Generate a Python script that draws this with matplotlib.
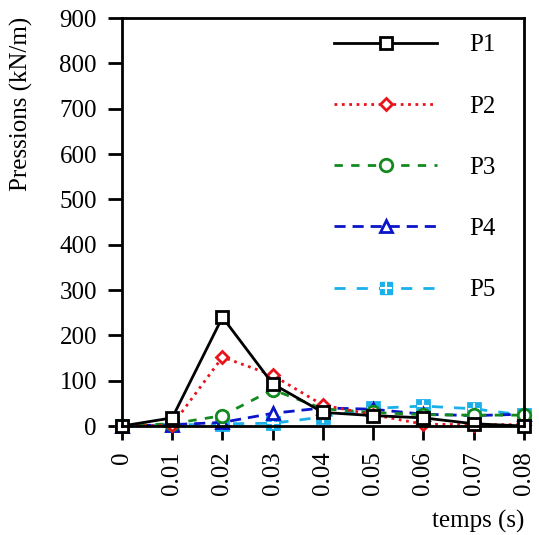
import matplotlib
matplotlib.use('Agg')
import matplotlib.pyplot as plt
from matplotlib.lines import Line2D
from matplotlib.legend_handler import HandlerTuple

plt.rcParams['font.family'] = ['Liberation Serif', 'DejaVu Serif']
plt.rcParams['font.size'] = 18

# temps (s)
t = [0, 0.01, 0.02, 0.03, 0.04, 0.05, 0.06, 0.07, 0.08]
tick_labels = ['0', '0.01', '0.02', '0.03', '0.04', '0.05', '0.06', '0.07', '0.08']

# pressions (kN/m)
p1 = [0, 18, 240, 93, 30, 23, 18, 5, 0]
p2 = [0, 2, 152, 112, 46, 25, 4, 3, 3]
p3 = [0, 5, 23, 80, 38, 30, 25, 24, 24]
p4 = [0, 3, 8, 28, 40, 37, 26, 23, 26]
p5 = [0, 2, 5, 6, 20, 39, 44, 38, 24]

fig = plt.figure(figsize=(5.39, 5.35), dpi=100)
ax = fig.add_axes([0.2263, 0.2037, 0.7457, 0.7626])

kw = dict(lw=2, mew=2, clip_on=False)
ax.plot(t, p1, '-', color='black', marker='s', ms=9,
        mfc='white', mec='black', zorder=6, **kw)
ax.plot(t, p2, ':', color='#e8141c', marker='D', ms=6.5,
        mfc='white', mec='#e8141c', zorder=5, **kw)
ax.plot(t, p3, '--', color='#138a20', marker='o', ms=9,
        mfc='white', mec='#138a20', dashes=(3, 3), zorder=4, **kw)
ax.plot(t, p4, '--', color='#0a14c8', marker='^', ms=9,
        mfc='white', mec='#0a14c8', dashes=(4, 2.5), zorder=3, **kw)
ax.plot(t, p5, '--', color='#1ab0ea', marker='s', ms=9,
        mfc='#1ab0ea', mec='#1ab0ea', dashes=(4, 4), zorder=2, **kw)
ax.plot(t, p5, ' ', marker='+', ms=8, mec='white', mew=1.5, zorder=2,
        clip_on=False)

ax.set_xlim(0, 0.08)
ax.set_ylim(0, 900)
ax.set_xticks(t)
ax.set_xticklabels(tick_labels, rotation=90)
ax.set_yticks(range(0, 1000, 100))
ax.tick_params(direction='out', length=10, width=2, pad=8)
for s in ax.spines.values():
    s.set_linewidth(2)
    s.set_zorder(10)

ax.set_ylabel('Pressions (kN/m)')
ax.yaxis.set_label_coords(-0.222, 0.79)
ax.set_xlabel('temps (s)', ha='right', va='top')
ax.xaxis.set_label_coords(1.0, -0.205)

h1 = Line2D([], [], ls='-', color='black', lw=2, marker='s', ms=9,
            mfc='white', mec='black', mew=2)
h2 = Line2D([], [], ls=':', color='#e8141c', lw=2, marker='D', ms=6.5,
            mfc='white', mec='#e8141c', mew=2)
h3 = Line2D([], [], ls='--', color='#138a20', lw=2, marker='o', ms=9,
            mfc='white', mec='#138a20', mew=2, dashes=(3, 3))
h4 = Line2D([], [], ls='--', color='#0a14c8', lw=2, marker='^', ms=9,
            mfc='white', mec='#0a14c8', mew=2, dashes=(4, 2.5))
h5a = Line2D([], [], ls='--', color='#1ab0ea', lw=2, marker='s', ms=9,
             mfc='#1ab0ea', mec='#1ab0ea', dashes=(4, 4))
h5b = Line2D([], [], ls=' ', marker='+', ms=8, mec='white', mew=1.5)

ax.legend([h1, h2, h3, h4, (h5a, h5b)], ['P1', 'P2', 'P3', 'P4', 'P5'],
          handler_map={tuple: HandlerTuple(ndivide=1, pad=0)},
          loc='upper right', bbox_to_anchor=(0.98, 1.01),
          frameon=False, handlelength=4.1,
          handletextpad=1.3, labelspacing=1.55, borderaxespad=0.4,
          fontsize=18)

fig.savefig('out.png', dpi=100)
